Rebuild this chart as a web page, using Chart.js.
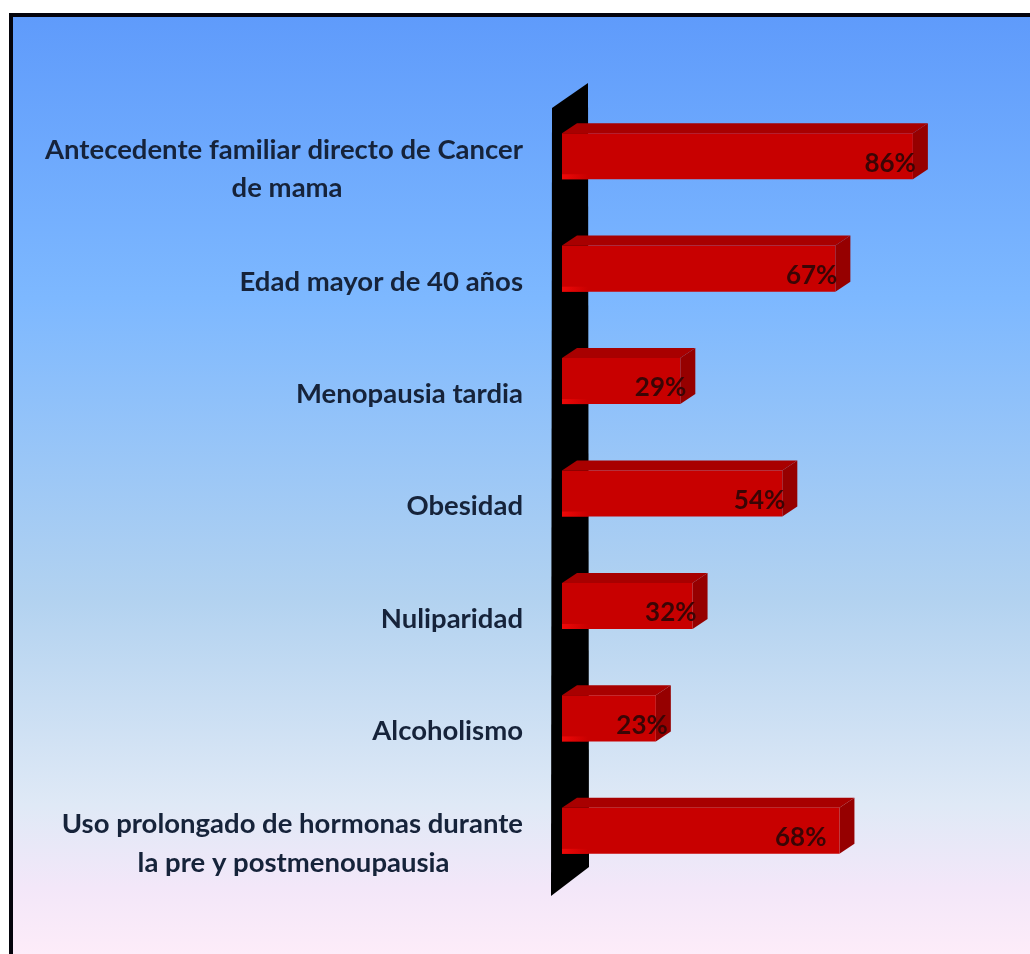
<!DOCTYPE html>
<html><head><meta charset="utf-8">
<style>html,body{margin:0;padding:0;background:#fff}canvas{display:block}</style>
<script src="https://cdn.jsdelivr.net/npm/chart.js@4"></script>
</head><body>
<canvas id="c" width="1030" height="954"></canvas>
<script>
const categories = [
  ["Antecedente familiar directo de Cancer","de mama"],
  "Edad mayor de 40 años",
  "Menopausia tardia",
  "Obesidad",
  "Nuliparidad",
  "Alcoholismo",
  ["Uso prolongado de hormonas durante","la pre y postmenoupausia"]
];
const values = [86,67,29,54,32,23,68];
const labelInset = [-3,-2,-6,-3,-4,-12,13];

const LABEL_FONT = 'bold 27.5px Lato, sans-serif';
const DX = 15, DY = 10;
const mctx = document.createElement('canvas').getContext('2d');
mctx.font = LABEL_FONT;
// pad shorter lines so that multi-line labels read as a centred block
function centred(label){
  if(!Array.isArray(label)) return label;
  const w = label.map(s=>mctx.measureText(s).width), max = Math.max(...w);
  const sp = mctx.measureText('\u00a0').width;
  return label.map((s,i)=>s+'\u00a0'.repeat(Math.round((max-w[i])/2/sp)));
}
const scene = {
  id:'scene',
  beforeDraw(chart){
    const {ctx,width,height} = chart;
    ctx.save();
    ctx.fillStyle='#fff';ctx.fillRect(0,0,width,height);
    ctx.fillStyle='#04040c';ctx.fillRect(9,13,width-9,height-13);
    const g=ctx.createLinearGradient(0,17,0,height);
    g.addColorStop(0,'#5f9bfb');g.addColorStop(.3,'#7db8ff');g.addColorStop(.62,'#b2d2f0');
    g.addColorStop(.84,'#dfe9f6');g.addColorStop(.93,'#f3e7f9');g.addColorStop(1,'#fdecf9');
    ctx.fillStyle=g;ctx.fillRect(13,17,width-13,height-17);
    ctx.restore();
  },
  beforeDatasetsDraw(chart){
    const {ctx,chartArea:a}=chart;
    ctx.save();
    ctx.fillStyle='#000';
    ctx.beginPath();
    ctx.moveTo(a.left-10,a.top+8);ctx.lineTo(a.left+26,a.top-17);
    ctx.lineTo(a.left+27,a.bottom-20);ctx.lineTo(a.left-11,a.bottom+9);
    ctx.closePath();ctx.fill();
    chart.getDatasetMeta(0).data.forEach(b=>{
      const top=b.y-b.height/2,bot=b.y+b.height/2,l=b.base,r=b.x;
      ctx.fillStyle='#a80000';
      ctx.beginPath();ctx.moveTo(l,top);ctx.lineTo(l+DX,top-DY);ctx.lineTo(r+DX,top-DY);ctx.lineTo(r,top);ctx.closePath();ctx.fill();
      ctx.fillStyle='#960000';
      ctx.beginPath();ctx.moveTo(r,top);ctx.lineTo(r+DX,top-DY);ctx.lineTo(r+DX,bot-DY);ctx.lineTo(r,bot);ctx.closePath();ctx.fill();
    });
    ctx.restore();
  },
  afterDatasetsDraw(chart){
    const {ctx}=chart;
    ctx.save();
    chart.getDatasetMeta(0).data.forEach(b=>{
      const bot=b.y+b.height/2;
      const hl=ctx.createLinearGradient(b.base,0,b.base+26,0);
      hl.addColorStop(0,'#ee0808');hl.addColorStop(1,'#c80000');
      ctx.fillStyle=hl;ctx.fillRect(b.base,bot-5,26,5);
    });
    ctx.font='bold 26px Lato, sans-serif';ctx.fillStyle='#3a0505';
    ctx.textAlign='right';ctx.textBaseline='middle';
    chart.getDatasetMeta(0).data.forEach((b,i)=>{
      ctx.fillText(values[i]+'%',b.x-labelInset[i],b.y+7);
    });
    ctx.restore();
  }
};
new Chart(document.getElementById('c'),{
  type:'bar',
  data:{labels:categories,datasets:[{data:values,backgroundColor:'#c80000',borderWidth:0,barPercentage:.41,categoryPercentage:1}]},
  options:{
    indexAxis:'y',responsive:false,animation:false,
    layout:{padding:{top:100,bottom:67,left:0,right:60}},
    plugins:{legend:{display:false},tooltip:{enabled:false}},
    scales:{
      x:{display:false,min:0,max:100},
      y:{
        afterFit(s){s.width=562;s.paddingTop=0;s.paddingBottom=0;},
        grid:{display:false,drawTicks:false},border:{display:false},
        ticks:{autoSkip:false,color:'#16233a',padding:39,labelOffset:13,font:{family:'Lato, sans-serif',size:27.5,weight:'bold',lineHeight:1.4},
          callback(v){return centred(categories[v]);}}
      }
    }
  },
  plugins:[scene]
});
</script>
</body></html>
